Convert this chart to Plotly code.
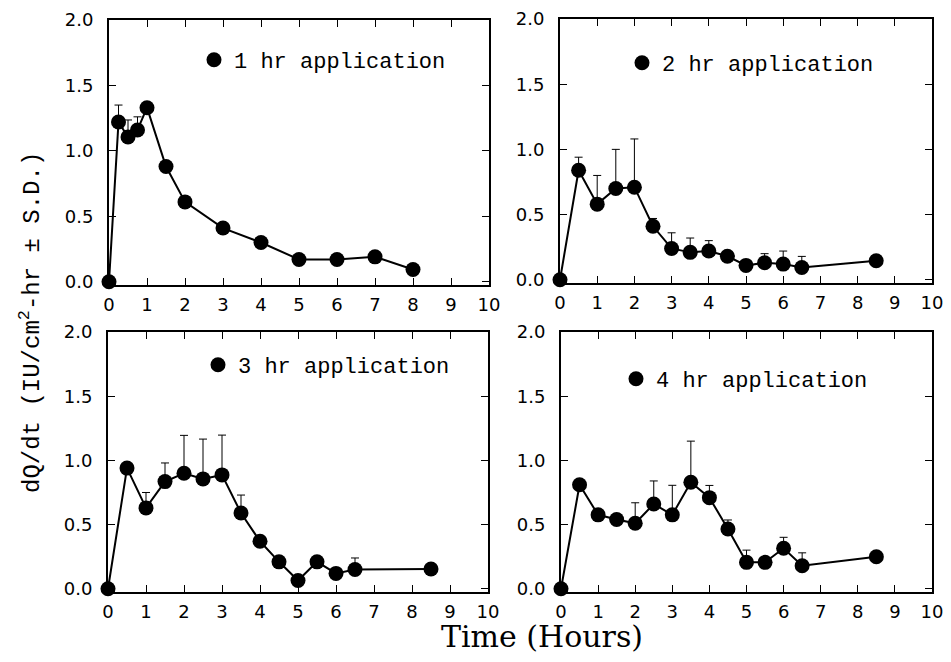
import plotly.graph_objects as go

# ---- data ----
t1 = [0, 0.25, 0.5, 0.75, 1, 1.5, 2, 3, 4, 5, 6, 7, 8]
v1 = [0, 1.22, 1.106, 1.16, 1.33, 0.88, 0.61, 0.41, 0.30, 0.17, 0.17, 0.19, 0.094]
e1 = [None, 0.13, 0.13, 0.10, None, None, None, None, None, None, None, None, None]

t2 = [0, 0.5, 1, 1.5, 2, 2.5, 3, 3.5, 4, 4.5, 5, 5.5, 6, 6.5, 8.5]
v2 = [0, 0.84, 0.58, 0.70, 0.71, 0.41, 0.24, 0.21, 0.22, 0.18, 0.11, 0.13, 0.12, 0.094, 0.146]
e2 = [None, 0.10, 0.22, 0.30, 0.37, 0.06, 0.12, 0.11, 0.08, None, None, 0.07, 0.10, 0.085, None]

t3 = [0, 0.5, 1, 1.5, 2, 2.5, 3, 3.5, 4, 4.5, 5, 5.5, 6, 6.5, 8.5]
v3 = [0, 0.94, 0.63, 0.835, 0.90, 0.856, 0.887, 0.59, 0.37, 0.21, 0.064, 0.21, 0.12, 0.15, 0.154]
e3 = [None, None, 0.12, 0.145, 0.295, 0.31, 0.31, 0.14, None, None, None, None, None, 0.09, None]

t4 = [0, 0.5, 1, 1.5, 2, 2.5, 3, 3.5, 4, 4.5, 5, 5.5, 6, 6.5, 8.5]
v4 = [0, 0.81, 0.576, 0.54, 0.51, 0.66, 0.576, 0.83, 0.71, 0.466, 0.206, 0.206, 0.316, 0.18, 0.25]
e4 = [None, None, None, None, 0.16, 0.18, 0.23, 0.32, 0.095, 0.07, 0.095, None, 0.085, 0.10, None]

labels = ["1 hr application", "2 hr application", "3 hr application", "4 hr application"]
x_ticks = list(range(0, 11))
y_ticks = [0.0, 0.5, 1.0, 1.5, 2.0]
y_tick_text = ["0.0", "0.5", "1.0", "1.5", "2.0"]

# page body has an 8px margin on every side: lay out in window pixels,
# convert to paper fractions of a figure that fits without scrolling
OFF = 8
W, H = 951 - 2 * OFF, 662 - 2 * OFF


def fx(px):
    return (px - OFF) / W


def fy(py):
    return 1 - (py - OFF) / H


panels = [(t1, v1, e1), (t2, v2, e2), (t3, v3, e3), (t4, v4, e4)]

# pixel layout of each panel: (left, right, top, bottom)
boxes = [(109, 489, 20, 285), (560, 932, 19, 283), (108, 488, 332, 592), (561, 932, 332, 592)]
legend_pos = [(194, 60), (622, 63), (198, 365), (616, 379)]

fig = go.Figure()
MONO = "Courier New, Liberation Mono, monospace"
TICKFONT = dict(family="DejaVu Sans", size=18, color="black")

for i, ((t, v, e), lab) in enumerate(zip(panels, labels)):
    n = i + 1
    xa = "x" if n == 1 else f"x{n}"
    ya = "y" if n == 1 else f"y{n}"
    lg = "legend" if n == 1 else f"legend{n}"
    fig.add_trace(go.Scatter(
        x=t, y=v, mode="lines+markers", xaxis=xa, yaxis=ya,
        line=dict(color="black", width=2),
        marker=dict(color="black", size=15),
        error_y=dict(type="data", array=e, arrayminus=[0] * len(e), symmetric=False,
                     color="black", thickness=1, width=4),
        cliponaxis=False, showlegend=False))
    fig.add_trace(go.Scatter(
        x=[None], y=[None], mode="markers", xaxis=xa, yaxis=ya,
        marker=dict(color="black", size=15), name=lab, legend=lg, showlegend=True))

    l, r, tp, bt = boxes[i]
    xd = [fx(l), fx(r)]
    yd = [fy(bt), fy(tp)]
    axcommon = dict(showline=True, linecolor="black", linewidth=2, mirror="ticks",
                    ticks="inside", ticklen=7, tickwidth=1, tickcolor="black",
                    showgrid=False, zeroline=False, tickfont=TICKFONT, automargin=False,
                    ticklabeloverflow="allow")
    fig.update_layout(**{
        ("xaxis" if n == 1 else f"xaxis{n}"): dict(domain=xd, range=[0, 10], tickvals=x_ticks,
                                                    anchor=ya, ticklabelstandoff=2, **axcommon),
        ("yaxis" if n == 1 else f"yaxis{n}"): dict(domain=yd, range=[-0.025, 2.0], tickvals=y_ticks,
                                                    ticktext=y_tick_text, anchor=xa,
                                                    ticklabelstandoff=10, **axcommon),
    })
    lx, ly = legend_pos[i]
    fig.update_layout(**{lg: dict(x=fx(lx), y=fy(ly), xanchor="left", yanchor="middle",
                                  bgcolor="rgba(0,0,0,0)", borderwidth=0,
                                  font=dict(family=MONO, size=22, color="black"))})

fig.add_annotation(text="dQ/dt (IU/cm<sup>2</sup>-hr ± S.D.)", xref="paper", yref="paper",
                   x=fx(30), y=fy(323), xanchor="center", yanchor="middle",
                   textangle=-90, showarrow=False,
                   font=dict(family=MONO, size=24, color="black"))
fig.add_annotation(text="Time (Hours)", xref="paper", yref="paper",
                   x=fx(542), y=fy(636), xanchor="center", yanchor="middle", showarrow=False,
                   font=dict(family="DejaVu Serif", size=30, color="black"))

fig.update_layout(width=W, height=H, margin=dict(l=0, r=0, t=0, b=0),
                  paper_bgcolor="white", plot_bgcolor="white")
fig.write_html("out.html")
